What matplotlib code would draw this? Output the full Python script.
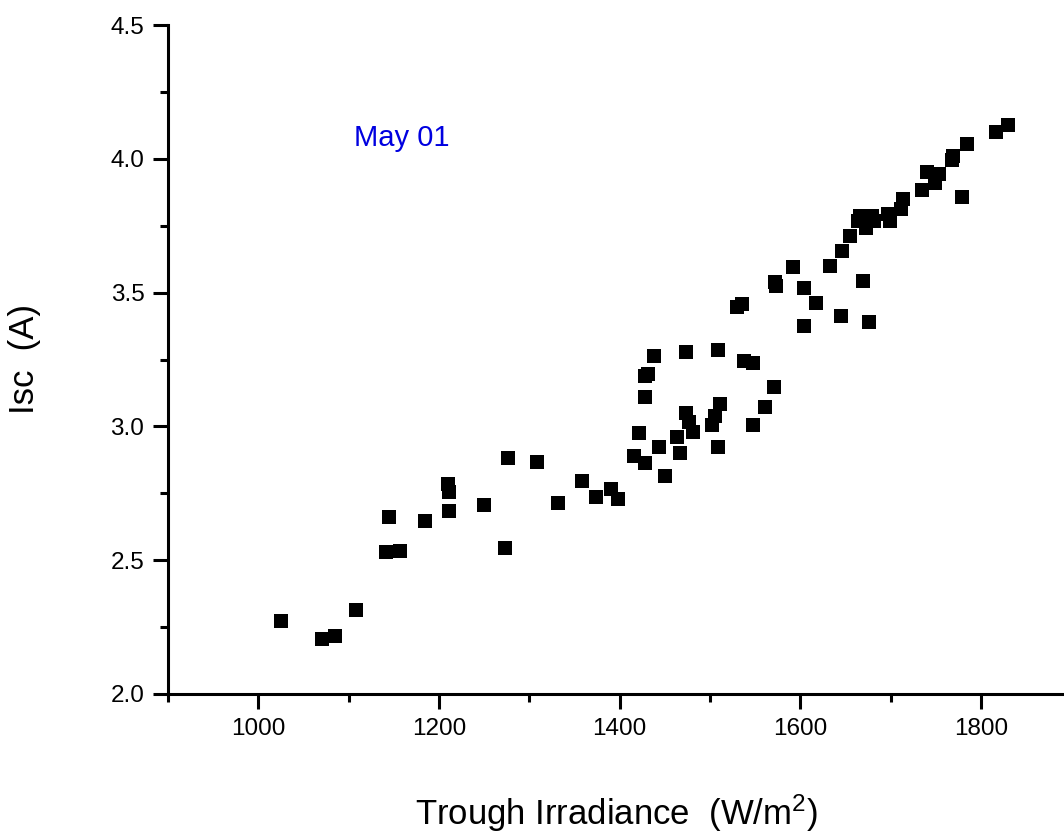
import matplotlib
matplotlib.use("Agg")
import matplotlib.pyplot as plt
from matplotlib.ticker import MultipleLocator

# readings (W/m2, A)
irradiance = [1025, 1071, 1085, 1108, 1141, 1157, 1145, 1185, 1211, 1210,
              1211, 1250, 1273, 1276, 1308, 1332, 1358, 1374, 1390, 1398,
              1416, 1428, 1422, 1450, 1444, 1467, 1464, 1481, 1477, 1474,
              1502, 1506, 1511, 1509, 1548, 1561, 1571, 1428, 1428, 1431,
              1438, 1474, 1509, 1538, 1548, 1530, 1535, 1572, 1573, 1592,
              1604, 1617, 1604, 1633, 1645, 1676, 1670, 1646, 1655, 1664,
              1673, 1682, 1666, 1679, 1697, 1699, 1712, 1714, 1735, 1740,
              1754, 1749, 1768, 1769, 1779, 1785, 1817, 1830]
isc = [2.274, 2.206, 2.217, 2.315, 2.532, 2.536, 2.660, 2.648, 2.682, 2.783,
       2.753, 2.708, 2.547, 2.881, 2.866, 2.712, 2.795, 2.735, 2.765, 2.727,
       2.888, 2.862, 2.975, 2.813, 2.922, 2.900, 2.960, 2.978, 3.016, 3.049,
       3.004, 3.038, 3.083, 2.922, 3.004, 3.072, 3.147, 3.109, 3.188, 3.196,
       3.263, 3.278, 3.286, 3.244, 3.237, 3.447, 3.458, 3.540, 3.525, 3.597,
       3.518, 3.462, 3.376, 3.600, 3.413, 3.391, 3.544, 3.657, 3.713, 3.769,
       3.743, 3.769, 3.785, 3.785, 3.795, 3.769, 3.814, 3.848, 3.885, 3.949,
       3.945, 3.908, 3.994, 4.009, 3.859, 4.054, 4.099, 4.125]

plt.rcParams['font.family'] = ['Liberation Sans', 'DejaVu Sans']
plt.rcParams['mathtext.default'] = 'regular'

fig = plt.figure(figsize=(10.64, 8.34), dpi=100)
ax = fig.add_axes([168/1064, 140/834, 1 - 168/1064, (694-25)/834])

ax.plot(irradiance, isc, 's', color='black', markersize=10, markeredgewidth=0)

ax.set_xlim(900, 1892)
ax.set_ylim(2.0, 4.5)
ax.xaxis.set_major_locator(MultipleLocator(200))
ax.xaxis.set_minor_locator(MultipleLocator(100))
ax.yaxis.set_major_locator(MultipleLocator(0.5))
ax.yaxis.set_minor_locator(MultipleLocator(0.25))
ax.yaxis.set_major_formatter(plt.FormatStrFormatter('%.1f'))

for s in ['top', 'right']:
    ax.spines[s].set_visible(False)
for s in ['left', 'bottom']:
    ax.spines[s].set_linewidth(2.2)
ax.tick_params(which='major', length=11, width=2.2, labelsize=17.5, pad=6)
ax.tick_params(which='minor', length=6, width=2.2)

ax.set_xlabel('Trough Irradiance  (W/m$^2$)', fontsize=25, labelpad=38)
ax.set_ylabel('Isc  (A)', fontsize=25, labelpad=50)

ax.text(1106, 4.046, 'May 01', color='#0000e0', fontsize=21,
        ha='left', va='baseline')

plt.savefig('out.png', dpi=100)
